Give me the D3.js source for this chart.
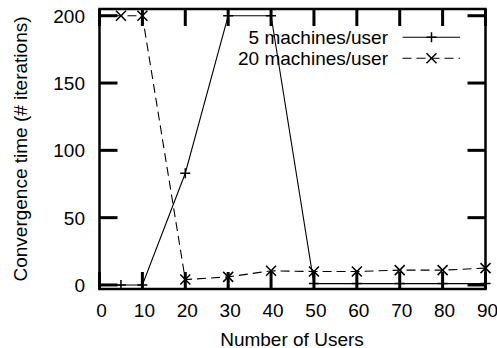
<!DOCTYPE html>
<html>
<head>
<meta charset="utf-8">
<script src="https://cdn.jsdelivr.net/npm/d3@7"></script>
<style>
  body { margin: 0; background: white; }
  text { font-family: "Liberation Sans", Arial, sans-serif; font-size: 19px; fill: black; }
</style>
</head>
<body>
<div id="mydiv"></div>
<script>
// number of users
var users = [0, 5, 10, 20, 30, 40, 50, 60, 70, 80, 90];
// convergence time (# iterations)
var fiveMachines = [0, 0, 0, 83, 200, 200, 1, 1, 1, 1, 1];
var twentyMachines = [200, 200, 200, 4, 6, 10.5, 10, 10, 11, 11, 12.5];
var xTicks = [0, 10, 20, 30, 40, 50, 60, 70, 80, 90];
var yTicks = [0, 50, 100, 150, 200];
var seriesNames = ["5 machines/user", "20 machines/user"];

var W = 497, H = 348;
// note: "top" is taken by window.top, so plot edges get their own names
var plotLeft = 99.5, plotRight = 485.5, plotTop = 9, plotBottom = 289;

var x = d3.scaleLinear().domain([0, 90]).range([plotLeft, plotRight]);
var y = d3.scaleLinear().domain([-3, 205]).range([plotBottom, plotTop]);

var svg = d3.select("#mydiv").append("svg")
  .attr("width", W)
  .attr("height", H)
  .style("background-color", "white");

svg.append("defs").append("clipPath").attr("id", "plotclip")
  .append("rect").attr("x", plotLeft).attr("y", plotTop)
  .attr("width", plotRight - plotLeft).attr("height", plotBottom - plotTop);

// ticks, inward on all four sides
var tickG = svg.append("g").attr("stroke", "black").attr("stroke-width", 3);
xTicks.forEach(function(t) {
  tickG.append("line").attr("x1", x(t)).attr("x2", x(t)).attr("y1", plotBottom).attr("y2", plotBottom - 17);
  tickG.append("line").attr("x1", x(t)).attr("x2", x(t)).attr("y1", plotTop).attr("y2", plotTop + 17);
});
yTicks.forEach(function(t) {
  tickG.append("line").attr("x1", plotLeft).attr("x2", plotLeft + 18).attr("y1", y(t)).attr("y2", y(t));
  tickG.append("line").attr("x1", plotRight).attr("x2", plotRight - 18).attr("y1", y(t)).attr("y2", y(t));
});

// frame
svg.append("rect")
  .attr("x", plotLeft).attr("y", plotTop)
  .attr("width", plotRight - plotLeft).attr("height", plotBottom - plotTop)
  .attr("fill", "none").attr("stroke", "black").attr("stroke-width", 2.5);

// tick labels
svg.selectAll(".xlab").data(xTicks).enter().append("text")
  .attr("class", "xlab")
  .attr("x", function(d) { return x(d) + 2; })
  .attr("y", plotBottom + 28)
  .attr("text-anchor", "middle")
  .text(function(d) { return d; });

svg.selectAll(".ylab").data(yTicks).enter().append("text")
  .attr("class", "ylab")
  .attr("x", 85)
  .attr("y", function(d) { return y(d) + 7; })
  .attr("text-anchor", "end")
  .text(function(d) { return d; });

// axis titles
svg.append("text")
  .attr("x", (plotLeft + plotRight) / 2 - 0.5)
  .attr("y", 345.5)
  .attr("text-anchor", "middle")
  .text("Number of Users");

svg.append("text")
  .attr("transform", "translate(27," + ((plotTop + plotBottom) / 2) + ") rotate(-90)")
  .attr("text-anchor", "middle")
  .text("Convergence time (# iterations)");

function plusPath(cx, cy, r) {
  return "M" + (cx - r) + "," + cy + "H" + (cx + r) + "M" + cx + "," + (cy - r) + "V" + (cy + r);
}
function crossPath(cx, cy, r) {
  return "M" + (cx - r) + "," + (cy - r) + "L" + (cx + r) + "," + (cy + r) +
         "M" + (cx - r) + "," + (cy + r) + "L" + (cx + r) + "," + (cy - r);
}

var data5 = users.map(function(u, i) { return {x: u, y: fiveMachines[i]}; });
var data20 = users.map(function(u, i) { return {x: u, y: twentyMachines[i]}; });

var line = d3.line()
  .x(function(d) { return x(d.x); })
  .y(function(d) { return y(d.y); });

var plot = svg.append("g").attr("clip-path", "url(#plotclip)");

plot.append("path").datum(data5)
  .attr("d", line).attr("fill", "none")
  .attr("stroke", "black").attr("stroke-width", 1.1);

plot.append("path").datum(data20)
  .attr("d", line).attr("fill", "none")
  .attr("stroke", "black").attr("stroke-width", 1.1)
  .attr("stroke-dasharray", "9,5");

// markers (first point sits on the border, not drawn)
svg.selectAll(".m5").data(data5.filter(function(d) { return d.x > 0; })).enter().append("path")
  .attr("class", "m5")
  .attr("d", function(d) { return plusPath(x(d.x), y(d.y), 5); })
  .attr("stroke", "black").attr("stroke-width", 1.5);

svg.selectAll(".m20").data(data20.filter(function(d) { return d.x > 0; })).enter().append("path")
  .attr("class", "m20")
  .attr("d", function(d) { return crossPath(x(d.x), y(d.y), 5); })
  .attr("stroke", "black").attr("stroke-width", 1.5);

// legend
var legY = [37.3, 58.3];
var lx1 = 402.5, lx2 = 460, lxm = 431.5;
seriesNames.forEach(function(name, i) {
  svg.append("text")
    .attr("x", 388)
    .attr("y", legY[i] + 6.5)
    .attr("text-anchor", "end")
    .text(name);
  var l = svg.append("line")
    .attr("x1", lx1).attr("x2", lx2)
    .attr("y1", legY[i]).attr("y2", legY[i])
    .attr("stroke", "black").attr("stroke-width", 1.1);
  if (i == 1) l.attr("stroke-dasharray", "9,5");
  svg.append("path")
    .attr("d", i == 0 ? plusPath(lxm, legY[i], 5) : crossPath(lxm, legY[i], 5))
    .attr("stroke", "black").attr("stroke-width", 1.5);
});
</script>
</body>
</html>
